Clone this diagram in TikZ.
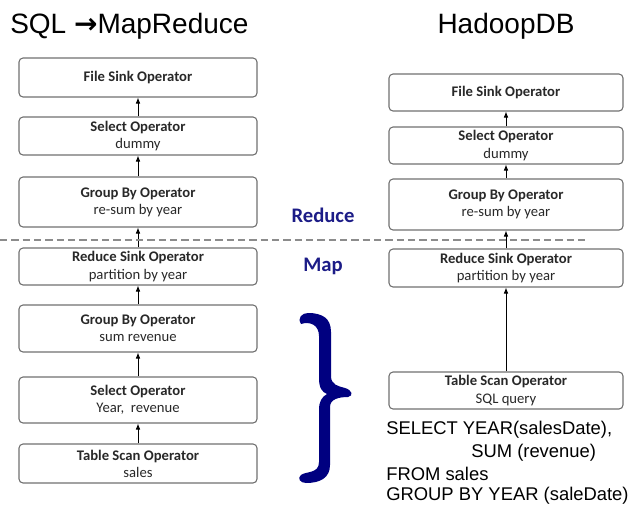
\documentclass[tikz,border=0pt]{standalone}
\usepackage{fontspec}
\setmainfont{Liberation Sans}
\newfontfamily\boxfont{Carlito}
\newfontfamily\arrowfont{DejaVu Sans}
\usetikzlibrary{arrows.meta}
\definecolor{boxgray}{RGB}{112,112,112}
\definecolor{txtgray}{RGB}{40,40,40}
\definecolor{navy}{RGB}{0,0,128}
\definecolor{phasecol}{RGB}{28,28,135}
\definecolor{dashgray}{RGB}{140,140,140}

\begin{document}
\begin{tikzpicture}[x=0.75pt, y=-0.75pt,
  op/.style={draw=boxgray, line width=0.8pt, rounded corners=3pt, align=center, inner sep=0pt, text=txtgray, font=\boxfont\fontsize{11}{12.8}\selectfont},
  flow/.style={-{Latex[length=4.5pt,width=3.5pt]}, line width=0.7pt},
  phase/.style={anchor=base, text=phasecol, font=\boxfont\bfseries\fontsize{15.5}{18}\selectfont},
  query/.style={anchor=base west, inner sep=0pt, font=\fontsize{13.8}{17}\selectfont},
  title/.style={inner sep=0pt, font=\fontsize{21}{25}\selectfont}]

  \useasboundingbox (0,0) rectangle (636,504);

	\def\lx{138};
	\def\lw{238};
	\def\rx{506};
	\def\rw{234};

  \node[title, anchor=base west] (sqltitle) at (10,33) {SQL {\arrowfont\bfseries →}MapReduce};
  \node[title, anchor=base] (hdbtitle) at (506,33) {HadoopDB};

       \foreach \name/\y/\h/\txt in {lfile/77.5/39/{\textbf{File Sink Operator}},
            lsel/136/38/{\textbf{Select Operator}\\dummy},
            lgrp/202/50/{\textbf{Group By Operator}\\re-sum by year},
            lrs/266.5/37/{\textbf{Reduce Sink Operator}\\partition by year},
            lsum/328.5/47/{\textbf{Group By Operator}\\sum revenue},
            lyear/400/46/{\textbf{Select Operator}\\Year,~ revenue},
            lscan/463.5/39/{\textbf{Table Scan Operator}\\sales}} {
         	\node[op, minimum width=\lw*0.75pt, minimum height=\h*0.75pt] (\name) at (\lx,\y) {\txt};
   	 }

       \foreach \name/\y/\h/\txt in {rfile/92.5/37/{\textbf{File Sink Operator}},
            rsel/145.5/37/{\textbf{Select Operator}\\dummy},
            rgrp/204.5/51/{\textbf{Group By Operator}\\re-sum by year},
            rrs/268/38/{\textbf{Reduce Sink Operator}\\partition by year},
            rscan/390.5/37/{\textbf{Table Scan Operator}\\SQL query}} {
         	\node[op, minimum width=\rw*0.75pt, minimum height=\h*0.75pt] (\name) at (\rx,\y) {\txt};
   	 }

       \foreach \a/\b in {lscan/lyear, lyear/lsum, lsum/lrs, lrs/lgrp, lgrp/lsel, lsel/lfile,
            rscan/rrs, rrs/rgrp, rgrp/rsel, rsel/rfile}
         	\draw[flow] (\a) -- (\b);

	\draw[dashgray, line width=0.9pt, dash pattern=on 5.5pt off 3pt] (0,240) -- (585,240);

  \node[phase] (reduce) at (323,222) {Reduce};
  \node[phase] (map) at (323,271) {Map};

	\fill[navy] (301,324) .. controls (297,318) and (302,313) .. (308,313)
	  .. controls (322,313) and (331,318) .. (331,332) -- (331,376)
	  .. controls (331,385) and (338,386) .. (345,388)
	  .. controls (352,390) and (354,396) .. (348,397)
	  .. controls (339,397) and (330,399) .. (330,407) -- (330,465)
	  .. controls (330,478) and (320,483) .. (306,483)
	  .. controls (300,483) and (297,478) .. (301,475)
	  .. controls (306,471) and (319,474) .. (319,462) -- (319,410)
	  .. controls (319,401) and (322,397) .. (327,394)
	  .. controls (322,392) and (319,388) .. (319,378) -- (319,336)
	  .. controls (319,325) and (310,321) .. (301,324) -- cycle;

  \node[query] (q1) at (386,434) {SELECT YEAR(salesDate),};
  \node[query] (q2) at (471,457) {SUM (revenue)};
  \node[query] (q3) at (386,480) {FROM sales};
  \node[query] (q4) at (386,500) {GROUP BY YEAR (saleDate)};

\end{tikzpicture}
\end{document}
